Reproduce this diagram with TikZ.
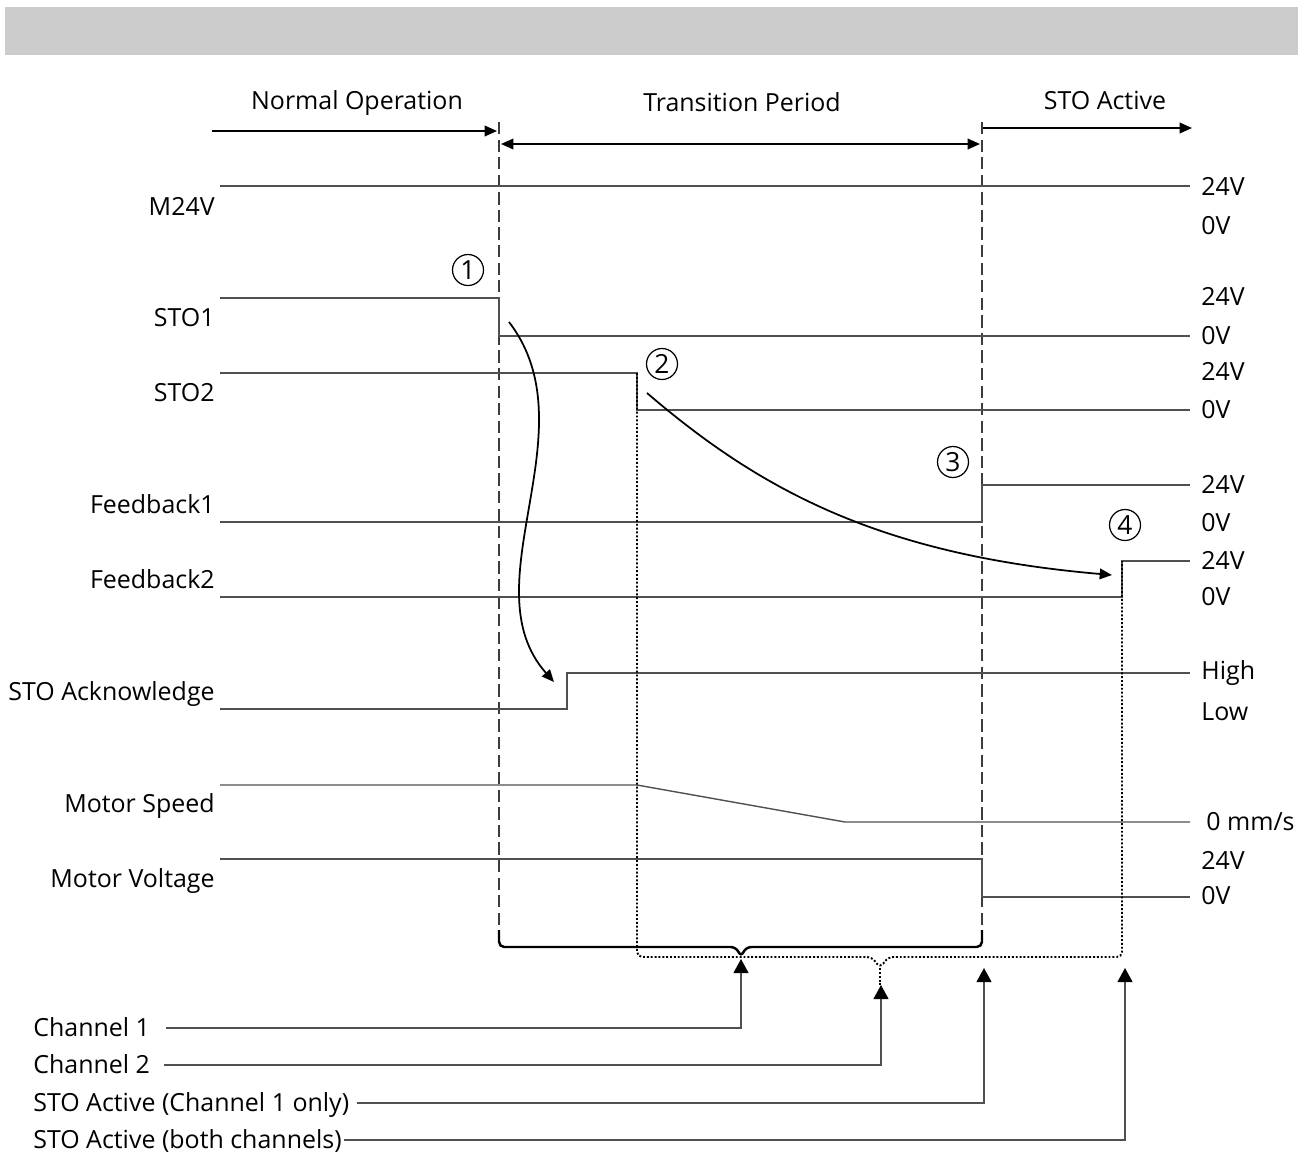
\documentclass[tikz,border=0pt]{standalone}
\usepackage{fontspec}
\setmainfont{Open Sans}
\usetikzlibrary{arrows.meta}

\definecolor{bandgray}{RGB}{204,204,204}
\definecolor{siggray}{RGB}{80,80,80}
\definecolor{dashgray}{RGB}{60,60,60}

\begin{document}
\begin{tikzpicture}[x=0.02cm, y=-0.02cm,
  every node/.style={font=\fontsize{14.2pt}{17pt}\selectfont, inner sep=0pt, text height=0.95em, text depth=0pt},
  leftlbl/.style={anchor=east},
  rightlbl/.style={anchor=west},
  sig/.style={draw=siggray, line width=0.8pt},
  phase/.style={dash pattern=on 7pt off 3pt, draw=dashgray, line width=1pt},
  dots/.style={line width=1.1pt, dash pattern=on 1.1pt off 1.1pt},
  arr/.style={-{Triangle[length=7pt, width=6pt]}, line width=1pt},
  uparr/.style={-{Triangle[length=8pt, width=8.5pt, color=black]}, draw=siggray, line width=0.8pt},
  step num/.style={circle, draw, line width=0.7pt, minimum size=0.62cm, inner sep=0pt, text height=, text depth=, font=\fontsize{15pt}{17pt}\selectfont}]

\useasboundingbox (0,0) rectangle (1308,1153);
\fill[bandgray] (5,7) rectangle (1298,55);

% phases
\node (normal) at (357,101) {Normal Operation};
\node (trans) at (742,103) {Transition Period};
\node (stoact) at (1105,101) {STO Active};
\coordinate (na) at (212,131);
\coordinate (nb) at (497,131);
\coordinate (ta) at (501,144);
\coordinate (tb) at (980,144);
\coordinate (sa) at (983,128);
\coordinate (sb) at (1192,128);
\draw[arr] (na) -- (nb);
\draw[arr, {Triangle[length=7pt, width=6pt]}-{Triangle[length=7pt, width=6pt]}] (ta) -- (tb);
\draw[arr] (sa) -- (sb);
\draw[phase] (499,122) -- (499,940);
\draw[phase] (982,122) -- (982,940);

% signal names
\node[leftlbl] (m24) at (215,207) {M24V};
\node[leftlbl] (sto1) at (215,318) {STO1};
\node[leftlbl] (sto2) at (215,393) {STO2};
\node[leftlbl] (fb1) at (215,505) {Feedback1};
\node[leftlbl] (fb2) at (215,580) {Feedback2};
\node[leftlbl] (ack) at (215,692) {STO Acknowledge};
\node[leftlbl] (speed) at (215,804) {Motor Speed};
\node[leftlbl] (volt) at (215,879) {Motor Voltage};

% levels
\foreach \y/\t in {187/24V, 226/0V, 297/24V, 336/0V, 372/24V, 410/0V,
                   485/24V, 523/0V, 561/24V, 597/0V, 671/High, 712/Low,
                   861/24V, 896/0V}
  \node[rightlbl] at (1201,\y) {\t};
\node[rightlbl] at (1206,822) {0 mm/s};

% waveforms
\draw[sig] (220,186) -- (1190,186);
\draw[sig] (220,298) -- (499,298) -- (499,336) -- (1190,336);
\draw[sig] (220,373) -- (637,373) -- (637,410) -- (1190,410);
\draw[sig] (220,522) -- (982,522) -- (982,485) -- (1190,485);
\draw[sig] (220,597) -- (1122,597) -- (1122,561) -- (1190,561);
\draw[sig] (220,709) -- (567,709) -- (567,673) -- (1190,673);
\draw[sig] (220,785) -- (637,785) -- (845,822) -- (1190,822);
\draw[sig] (220,859) -- (982,859) -- (982,897) -- (1190,897);

% events
\node[step num] (e1) at (468,270) {1};
\node[step num] (e2) at (662,364) {2};
\node[step num] (e3) at (953,462) {3};
\node[step num] (e4) at (1125,525) {4};

\coordinate (c1a) at (509,322);
\coordinate (c1b) at (554,682);
\coordinate (c2a) at (647,393);
\coordinate (c2b) at (1112,575);
\draw[arr] (c1a) .. controls (592,430) and (468,585) .. (c1b);
\draw[arr] (c2a) .. controls (760,490) and (880,555) .. (c2b);

% brackets
\draw[line width=1.4pt, rounded corners=3pt] (499,930) -- (499,947) -- (736,947) -- (741,957) -- (746,947) -- (982,947) -- (982,930);
\draw[dots, rounded corners=3pt] (637,373) -- (637,957) -- (872,957) -- (880,968) -- (888,957) -- (1122,957) -- (1122,561);
\draw[dots] (880,968) -- (880,985);

% channels
\node[anchor=west] (ch1) at (33,1028) {Channel 1};
\node[anchor=west] (ch2) at (33,1065) {Channel 2};
\node[anchor=west] (one) at (33,1103) {STO Active (Channel 1 only)};
\node[anchor=west] (both) at (33,1140) {STO Active (both channels)};
\coordinate (t1) at (741,959);
\coordinate (t2) at (881,985);
\coordinate (t3) at (984,968);
\coordinate (t4) at (1125,968);
\draw[uparr, shorten <=9pt] (ch1) -| (t1);
\draw[uparr, shorten <=8pt] (ch2) -| (t2);
\draw[uparr, shorten <=4pt] (one) -| (t3);
\draw[uparr, shorten <=1pt] (both) -| (t4);
\end{tikzpicture}
\end{document}
